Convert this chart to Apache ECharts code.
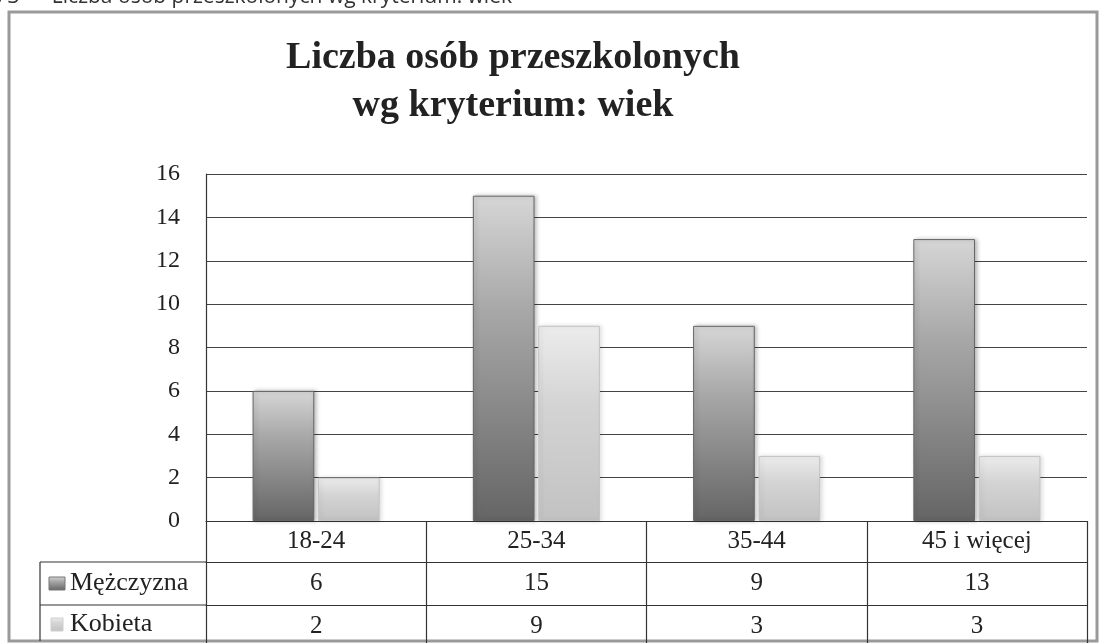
<!DOCTYPE html>
<html>
<head>
<meta charset="utf-8">
<script src="https://cdn.jsdelivr.net/npm/echarts@6/dist/echarts.min.js"></script>
<style>html,body{margin:0;padding:0;background:#fff;}#c{width:1105px;height:644px;}</style>
</head>
<body>
<div id="c"></div>
<script>
const categories = ['18-24', '25-34', '35-44', '45 i więcej'];
const seriesNames = ['Mężczyzna', 'Kobieta'];
const male = [6, 15, 9, 13];
const female = [2, 9, 3, 3];
const yTicks = { min: 0, max: 16, interval: 2 };
const titleText = 'Liczba osób przeszkolonych\nwg kryterium: wiek';
const captionText = 'Wykres 3  –  Liczba osób przeszkolonych wg kryterium: wiek';

const FONT = "'Liberation Serif', 'DejaVu Serif', serif";
const chart = echarts.init(document.getElementById('c'), null, { renderer: 'canvas' });

const maleGrad = new echarts.graphic.LinearGradient(0, 0, 0, 1, [
  { offset: 0, color: '#d6d6d6' }, { offset: 0.35, color: '#a8a8a8' }, { offset: 1, color: '#656565' }
]);
const femaleGrad = new echarts.graphic.LinearGradient(0, 0, 0, 1, [
  { offset: 0, color: '#ececec' }, { offset: 0.4, color: '#d4d4d4' }, { offset: 1, color: '#c2c2c2' }
]);

const tableRowAxis = (offset, values) => ({
  type: 'category', data: categories, position: 'bottom', offset: offset, gridIndex: 0,
  axisLine: { show: true, lineStyle: { color: '#333', width: 1.2 } },
  axisTick: { show: false },
  axisLabel: { show: true, margin: 9, fontFamily: FONT, fontSize: 25, color: '#222',
    formatter: (v) => String(values[categories.indexOf(v)]) }
});

const option = {
  backgroundColor: '#fff',
  animation: false,
  title: {
    text: titleText, left: 508, top: 29, textAlign: 'center',
    textStyle: { fontFamily: FONT, fontSize: 38, fontWeight: 'bold', color: '#222', lineHeight: 48 }
  },
  grid: { left: 206, right: 18, top: 174, bottom: 123, containLabel: false },
  xAxis: [
    {
      type: 'category', data: categories, position: 'bottom',
      axisLine: { show: true, lineStyle: { color: '#333', width: 1.2 } },
      axisTick: { show: true, length: 122, lineStyle: { color: '#333', width: 1.2 } },
      axisLabel: { margin: 8, fontFamily: FONT, fontSize: 25, color: '#222' }
    },
    tableRowAxis(41, male),
    tableRowAxis(84, female)
  ],
  yAxis: {
    type: 'value', min: yTicks.min, max: yTicks.max, interval: yTicks.interval,
    axisLine: { show: true, lineStyle: { color: '#333', width: 1.2 } },
    axisTick: { show: false },
    axisLabel: { margin: 26, fontFamily: FONT, fontSize: 24, color: '#222' },
    splitLine: { show: true, lineStyle: { color: '#444', width: 1.2 } }
  },
  series: [
    {
      name: seriesNames[0], type: 'bar', data: male, barWidth: '28%', barGap: '6%',
      itemStyle: { color: maleGrad, borderColor: '#666', borderWidth: 1,
        shadowColor: 'rgba(0,0,0,0.25)', shadowBlur: 4, shadowOffsetX: 2 }
    },
    {
      name: seriesNames[1], type: 'bar', data: female, barWidth: '28%', barGap: '6%',
      itemStyle: { color: femaleGrad, borderColor: '#c4c4c4', borderWidth: 1,
        shadowColor: 'rgba(0,0,0,0.12)', shadowBlur: 4, shadowOffsetX: 2 }
    }
  ],
  graphic: [
    { type: 'text', style: { text: captionText, x: 512, y: 8, textAlign: 'right', textVerticalAlign: 'bottom',
        font: "21px 'Open Sans', sans-serif", fill: '#333' } },
    { type: 'rect', shape: { x: 9, y: 12, width: 1088, height: 629 }, style: { fill: 'none', stroke: '#9a9a9a', lineWidth: 3 } },
    { type: 'line', shape: { x1: 40, y1: 562, x2: 206, y2: 562 }, style: { stroke: '#333', lineWidth: 1.2 } },
    { type: 'line', shape: { x1: 40, y1: 605, x2: 206, y2: 605 }, style: { stroke: '#333', lineWidth: 1.2 } },
    { type: 'line', shape: { x1: 40, y1: 562, x2: 40, y2: 641 }, style: { stroke: '#333', lineWidth: 1.2 } },
    { type: 'rect', shape: { x: 49, y: 577, width: 16, height: 13 }, style: { fill: maleGrad, stroke: '#777', lineWidth: 1 } },
    { type: 'text', style: { text: seriesNames[0], x: 70, y: 583, textVerticalAlign: 'middle', font: "26px 'Liberation Serif', serif", fill: '#222' } },
    { type: 'rect', shape: { x: 51, y: 618, width: 12, height: 13 }, style: { fill: femaleGrad, stroke: '#d0d0d0', lineWidth: 1 } },
    { type: 'text', style: { text: seriesNames[1], x: 70, y: 624, textVerticalAlign: 'middle', font: "26px 'Liberation Serif', serif", fill: '#222' } }
  ]
};
chart.setOption(option);
</script>
</body>
</html>
